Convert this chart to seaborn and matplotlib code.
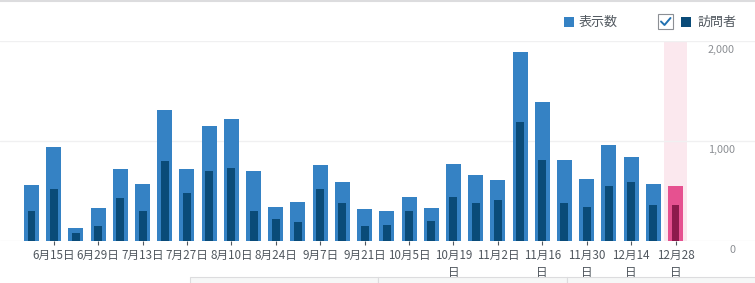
import matplotlib
matplotlib.use("Agg")
import matplotlib.pyplot as plt
import seaborn as sns
import pandas as pd
from matplotlib.patches import Rectangle
from matplotlib.lines import Line2D

sns.set_theme(style="white")
plt.rcParams['font.family'] = ['Noto Sans CJK JP', 'DejaVu Sans']

# ---- data ----
weeks = ["6月8日", "6月15日", "6月22日", "6月29日", "7月6日", "7月13日", "7月20日", "7月27日",
         "8月3日", "8月10日", "8月17日", "8月24日", "8月31日", "9月7日", "9月14日", "9月21日",
         "9月28日", "10月5日", "10月12日", "10月19日", "10月26日", "11月2日", "11月9日",
         "11月16日", "11月23日", "11月30日", "12月7日", "12月14日", "12月21日", "12月28日"]
views = [560, 943, 128, 329, 721, 570, 1305, 721, 1154, 1215, 701, 339, 389, 762, 591, 319,
         299, 440, 329, 772, 661, 611, 1889, 1386, 812, 621, 963, 842, 570, 550]
visitors = [299, 520, 77, 148, 430, 299, 802, 480, 701, 732, 299, 218, 188, 520, 379, 148,
            158, 299, 198, 440, 379, 409, 1185, 812, 379, 339, 550, 591, 359, 359]
tick_idx = [1, 3, 5, 7, 9, 11, 13, 15, 17, 19, 21, 23, 25, 27, 29]
tick_labels = ["6月15日", "6月29日", "7月13日", "7月27日", "8月10日", "8月24日", "9月7日",
               "9月21日", "10月5日", "10月19\n日", "11月2日", "11月16\n日", "11月30\n日",
               "12月14\n日", "12月28\n日"]
yticks = [0, 1000, 2000]
ytick_labels = ["0", "1,000", "2,000"]
legend_labels = ["表示数", "訪問者"]

LIGHT = "#3582c4"
DARK = "#0a4b78"
PINK = "#e65190"
DPINK = "#8c1a4b"
BAND = "#fbe8ee"

df = pd.DataFrame({"week": weeks, "views": views, "visitors": visitors})
n = len(weeks)
light_cols = [LIGHT] * (n - 1) + [PINK]
dark_cols = [DARK] * (n - 1) + [DPINK]

W, H = 755, 283
fig = plt.figure(figsize=(W / 100, H / 100), dpi=100)
ax = fig.add_axes([0, 42 / H, 1, 200 / H])
ax.patch.set_alpha(0)

slot = 644 / 29
left = -31.5 / slot
right = left + W / slot

# highlight band for current week
ax.axvspan(n - 1.5, n - 0.5, ymin=0, ymax=1, color=BAND, lw=0, zorder=0)

for yv in yticks:
    ax.axhline(yv, color="#f0f0f1", lw=1, zorder=0.5)

sns.barplot(data=df, x="week", y="views", hue="week", palette=light_cols, legend=False,
            width=0.675, ax=ax, saturation=1, zorder=2)
sns.barplot(data=df, x="week", y="visitors", hue="week", palette=dark_cols, legend=False,
            width=0.36, ax=ax, saturation=1, zorder=3)
for p in ax.patches:
    p.set_linewidth(0)

ax.set_xlim(left, right)
ax.set_ylim(0, 2000)
ax.set_xlabel("")
ax.set_ylabel("")
for s in ax.spines.values():
    s.set_visible(False)
ax.set_yticks([])
ax.set_xticks(tick_idx)
ax.set_xticklabels(tick_labels, fontsize=8.4, color="#50575e", linespacing=1.4)
ax.tick_params(axis="x", bottom=True, length=3, width=0.8, color="#50575e", pad=2.5)

for yv, lab in zip(yticks, ytick_labels):
    ax.annotate(lab, xy=(735 / W, yv), xycoords=("axes fraction", "data"),
                xytext=(0, -6.5), textcoords="offset points",
                ha="right", va="center", fontsize=7.8, color="#8c8f94")

# legend (figure pixel coords -> fraction)
def fx(px):
    return px / W

def fy(py):
    return 1 - py / H

fig.patches.append(Rectangle((fx(564), fy(27)), 10 / W, 10 / H, transform=fig.transFigure,
                             facecolor=LIGHT, edgecolor="none"))
fig.text(fx(579), fy(22), legend_labels[0], fontsize=9.4, color="#50575e", va="center", ha="left")
fig.patches.append(Rectangle((fx(658), fy(29)), 15 / W, 15 / H, transform=fig.transFigure,
                             facecolor="white", edgecolor="#8c8f94", lw=0.8))
fig.lines.append(Line2D([fx(661), fx(664.5), fx(670.5)], [fy(21.5), fy(25), fy(18)],
                        transform=fig.transFigure, color="#2271b1", lw=1.4))
fig.patches.append(Rectangle((fx(681), fy(27)), 10 / W, 10 / H, transform=fig.transFigure,
                             facecolor=DARK, edgecolor="none"))
fig.text(fx(697), fy(22), legend_labels[1], fontsize=9.4, color="#50575e", va="center", ha="left")

# top border
fig.lines.append(Line2D([0, 1], [fy(0.5), fy(0.5)], transform=fig.transFigure,
                        color="#dcdcde", lw=1.5))
# bottom panels (drawn beneath the axes)
for x0, x1 in [(190, 378), (378, 567), (567, 760)]:
    fig.patches.append(Rectangle((fx(x0), fy(290)), (x1 - x0) / W, 13 / H,
                                 transform=fig.transFigure, facecolor="#f6f7f7",
                                 edgecolor="#dcdcde", lw=0.8, zorder=-1))

fig.savefig("out.png", dpi=100)
